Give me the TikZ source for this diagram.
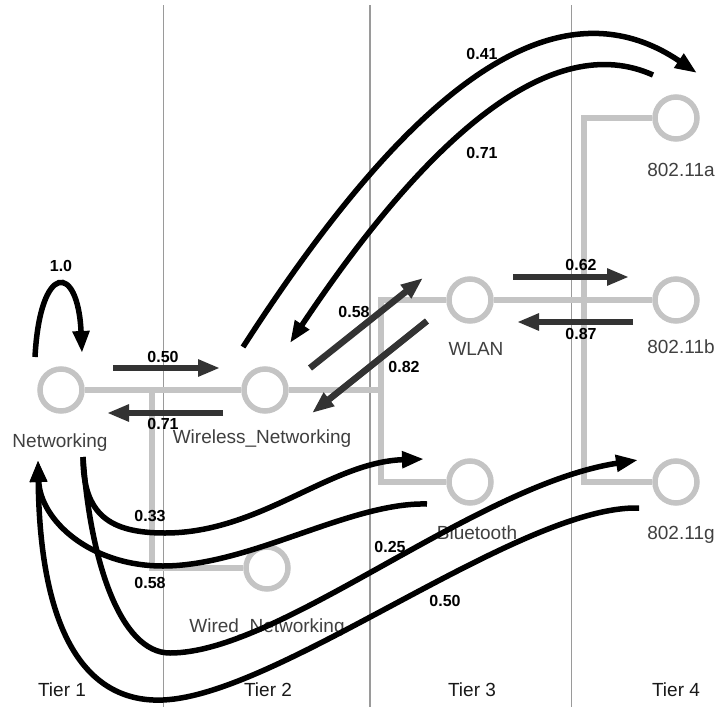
\documentclass[tikz,border=0pt]{standalone}
\usepackage{fontspec}
\setmainfont{Liberation Sans}
\usetikzlibrary{arrows.meta}
\definecolor{treegray}{HTML}{C4C4C4}
\definecolor{tiergray}{HTML}{9A9A9A}
\definecolor{labelgray}{HTML}{404040}
\definecolor{darkflow}{HTML}{333333}
\begin{document}
\begin{tikzpicture}[x=1pt,y=-1pt,
  topic/.style={circle,draw=treegray,line width=5.5pt,fill=white,minimum size=42pt,inner sep=0pt},
  toplabel/.style={anchor=base,text=labelgray,font=\fontsize{19}{21}\selectfont,inner sep=0pt},
  tierlabel/.style={anchor=base,text=black!90,font=\fontsize{19}{21}\selectfont,inner sep=0pt},
  weight/.style={text=black,font=\bfseries\fontsize{16}{18}\selectfont,inner sep=0pt},
  tree/.style={draw=treegray,line width=5.5pt,line join=miter},
  tierline/.style={draw=tiergray,line width=1.2pt},
  straightflow/.style={draw=darkflow,line width=6.5pt,-{Triangle[length=22pt,width=16pt]}},
  curveflow/.style={draw=black,line width=5.5pt,-{Triangle[length=22pt,width=16pt]}}]
\useasboundingbox (0,0) rectangle (724,710);
\fill[white] (0,0) rectangle (724,710);

% tier separators
\coordinate (t1top) at (163.5,5);   \coordinate (t1bot) at (163.5,707);
\coordinate (t2top) at (370,5);     \coordinate (t2bot) at (370,707);
\coordinate (t3top) at (571.5,5);   \coordinate (t3bot) at (571.5,707);
\draw[tierline] (t1top) -- (t1bot);
\draw[tierline] (t2top) -- (t2bot);
\draw[tierline] (t3top) -- (t3bot);

% topic nodes
\node[topic] (net)   at (61,390)  {};
\node[topic] (wn)    at (265,390) {};
\node[topic] (wired) at (267,568) {};
\node[topic] (wlan)  at (470,300) {};
\node[topic] (bt)    at (470,482) {};
\node[topic] (aa)    at (676,118) {};
\node[topic] (bb)    at (676,300) {};
\node[topic] (gg)    at (676,482) {};

% hierarchy lines
\coordinate (j1) at (152,390);
\coordinate (j2) at (381,390);
\coordinate (j3) at (584,300);
\draw[tree] (net.east) -- (wn.west);
\draw[tree] (j1) |- (wired.west);
\draw[tree] (wn.east) -- (j2);
\draw[tree] (wlan.west) -| (j2) |- (bt.west);
\draw[tree] (wlan.east) -- (bb.west);
\draw[tree] (aa.west) -| (j3) |- (gg.west);

% topic labels
\node[toplabel] (lnet)   at (60,447)  {Networking};
\node[toplabel] (lwn)    at (262,443) {Wireless\_Networking};
\node[toplabel] (lwired) at (267,632) {Wired\_Networking};
\node[toplabel] (lwlan)  at (476,355) {WLAN};
\node[toplabel] (lbt)    at (477,539) {Bluetooth};
\node[toplabel] (laa)    at (681,176) {802.11a};
\node[toplabel] (lbb)    at (681,353) {802.11b};
\node[toplabel] (lgg)    at (681,539) {802.11g};

% tier labels
\node[tierlabel] (tier1) at (62,696)  {Tier 1};
\node[tierlabel] (tier2) at (268,696) {Tier 2};
\node[tierlabel] (tier3) at (472,696) {Tier 3};
\node[tierlabel] (tier4) at (676,696) {Tier 4};

% straight transitions
\coordinate (s50) at (113,368); \coordinate (e50) at (220,368);
\coordinate (s71) at (223,413); \coordinate (e71) at (107,413);
\coordinate (s58) at (310,368); \coordinate (e58) at (423,278);
\coordinate (s82) at (427,321); \coordinate (e82) at (312,413);
\coordinate (s62) at (513,277); \coordinate (e62) at (629,277);
\coordinate (s87) at (633,322); \coordinate (e87) at (517,322);
\draw[straightflow] (s50) -- (e50);
\draw[straightflow] (s71) -- (e71);
\draw[straightflow] (s58) -- (e58);
\draw[straightflow] (s82) -- (e82);
\draw[straightflow] (s62) -- (e62);
\draw[straightflow] (s87) -- (e87);

% curved transitions
\coordinate (loopS) at (35,357);  \coordinate (loopE) at (82,353);
\coordinate (upS)   at (243,347); \coordinate (upE)   at (697,73);
\coordinate (dnS)   at (653,75);  \coordinate (dnE)   at (290,343);
\coordinate (netOut) at (83,457); \coordinate (netIn) at (38,460);
\coordinate (btIn)  at (424,459); \coordinate (btOut) at (427,504);
\coordinate (ggIn)  at (638,460); \coordinate (ggOut) at (639,508);

\draw[curveflow] (loopS) .. controls (40,262) and (78,262) .. (loopE);
\draw[curveflow] (upS) .. controls (413,83) and (557,-22) .. (upE);
\draw[curveflow] (dnS) .. controls (553,30) and (430,133) .. (dnE);
\draw[curveflow] (netOut) .. controls (83,515) and (110,533) .. (165,533)
                 .. controls (260,533) and (330,462) .. (btIn);
\draw[curveflow] (btOut) .. controls (350,502) and (250,566) .. (163,566)
                 .. controls (90,566) and (40,520) .. (netIn);
\draw[curveflow] (netOut) .. controls (90,560) and (120,653) .. (170,653)
                 .. controls (280,653) and (475,485) .. (ggIn);
\draw[curveflow] (ggOut) .. controls (520,505) and (280,695) .. (163,700)
                 .. controls (90,703) and (40,640) .. (netIn);

% transition weights
\node[weight] (w10)  at (61,266)  {1.0};
\node[weight] (w50)  at (163,357) {0.50};
\node[weight] (w71)  at (163,424) {0.71};
\node[weight] (w58)  at (354,312) {0.58};
\node[weight] (w82)  at (404,367) {0.82};
\node[weight] (w62)  at (581,265) {0.62};
\node[weight] (w87)  at (581,334) {0.87};
\node[weight] (w41)  at (482,54)  {0.41};
\node[weight] (w71b) at (482,153) {0.71};
\node[weight] (w33)  at (150,516) {0.33};
\node[weight] (w58b) at (150,583) {0.58};
\node[weight] (w25)  at (390,547) {0.25};
\node[weight] (w50b) at (445,601) {0.50};
\end{tikzpicture}
\end{document}
